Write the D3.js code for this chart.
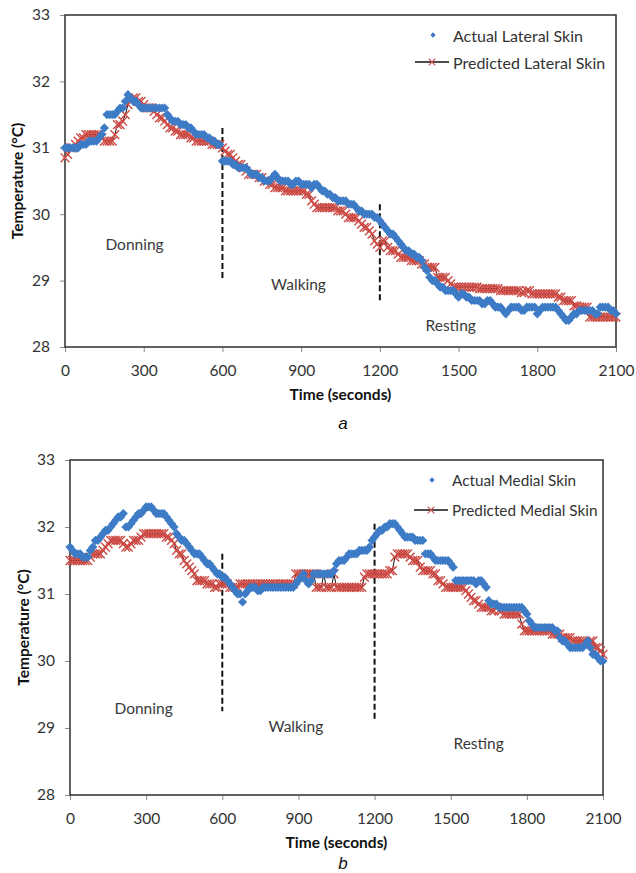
<!DOCTYPE html>
<html><head><meta charset="utf-8">
<script src="https://cdn.jsdelivr.net/npm/d3@7"></script>
<style>
body{margin:0;background:#fff}
svg{display:block}
text{font-family:Lato,"Open Sans","Liberation Sans",sans-serif}
</style>
</head><body>
<svg id="chart" width="636" height="873"></svg>
<script>
// ---------- DATA (sampled every 10 s) ----------
const timeSec = d3.range(0, 2101, 10);
const xTicks = [0, 300, 600, 900, 1200, 1500, 1800, 2100];
const yTicks = [28, 29, 30, 31, 32, 33];

const lateralActual = [
 31.0,31.0,31.0,31.0,31.0,31.0,31.05,31.05,31.05,31.1,
 31.1,31.1,31.1,31.15,31.2,31.3,31.5,31.5,31.5,31.5,
 31.55,31.6,31.6,31.7,31.8,31.75,31.7,31.7,31.65,31.6,
 31.6,31.6,31.6,31.6,31.6,31.6,31.6,31.6,31.6,31.5,
 31.45,31.4,31.4,31.4,31.35,31.35,31.35,31.3,31.3,31.25,
 31.2,31.2,31.2,31.2,31.15,31.15,31.1,31.1,31.05,31.05,
 30.8,30.8,30.8,30.8,30.75,30.75,30.7,30.7,30.7,30.7,
 30.65,30.6,30.6,30.6,30.55,30.55,30.5,30.5,30.5,30.55,
 30.6,30.55,30.5,30.5,30.5,30.5,30.45,30.45,30.5,30.5,
 30.45,30.45,30.45,30.45,30.4,30.45,30.45,30.4,30.35,30.35,
 30.3,30.3,30.25,30.25,30.2,30.2,30.2,30.2,30.15,30.15,
 30.15,30.1,30.05,30.05,30.0,30.0,30.0,30.0,29.95,29.95,
 29.9,29.85,29.8,29.75,29.7,29.7,29.65,29.6,29.55,29.5,
 29.45,29.45,29.4,29.4,29.35,29.35,29.3,29.2,29.15,29.05,
 29.0,29.0,28.95,28.9,28.9,28.85,28.85,28.85,28.85,28.8,
 28.75,28.8,28.8,28.75,28.75,28.7,28.7,28.7,28.7,28.65,
 28.65,28.7,28.7,28.65,28.6,28.6,28.6,28.55,28.5,28.55,
 28.6,28.6,28.6,28.6,28.55,28.55,28.6,28.6,28.6,28.6,
 28.5,28.55,28.6,28.6,28.6,28.6,28.6,28.6,28.55,28.5,
 28.45,28.4,28.4,28.45,28.5,28.5,28.55,28.55,28.55,28.55,
 28.55,28.55,28.5,28.5,28.6,28.6,28.6,28.6,28.55,28.55,
 28.5];
const lateralPredicted = [
 30.85,30.9,31.0,31.0,31.05,31.1,31.15,31.15,31.2,31.2,
 31.2,31.2,31.2,31.2,31.15,31.1,31.1,31.1,31.1,31.2,
 31.35,31.35,31.4,31.5,31.65,31.7,31.75,31.75,31.7,31.7,
 31.65,31.6,31.6,31.6,31.55,31.5,31.45,31.45,31.4,31.35,
 31.3,31.3,31.25,31.25,31.2,31.2,31.2,31.2,31.15,31.15,
 31.1,31.1,31.1,31.1,31.1,31.1,31.05,31.05,31.05,31.05,
 31.0,30.95,30.9,30.9,30.85,30.8,30.75,30.75,30.7,30.65,
 30.6,30.6,30.6,30.6,30.55,30.55,30.5,30.5,30.45,30.45,
 30.4,30.4,30.4,30.4,30.35,30.35,30.35,30.35,30.35,30.35,
 30.35,30.35,30.3,30.3,30.2,30.15,30.1,30.1,30.1,30.1,
 30.1,30.1,30.1,30.1,30.05,30.05,30.05,30.0,29.95,29.95,
 29.95,29.95,29.9,29.85,29.8,29.8,29.75,29.7,29.6,29.55,
 29.5,29.6,29.6,29.5,29.45,29.45,29.45,29.4,29.35,29.35,
 29.35,29.35,29.3,29.3,29.3,29.3,29.25,29.25,29.2,29.2,
 29.2,29.2,29.05,29.05,29.05,29.05,29.0,28.95,28.9,28.9,
 28.9,28.9,28.9,28.9,28.9,28.9,28.9,28.9,28.88,28.88,
 28.88,28.88,28.88,28.88,28.88,28.88,28.85,28.85,28.85,28.85,
 28.85,28.85,28.85,28.85,28.82,28.82,28.85,28.85,28.8,28.8,
 28.8,28.8,28.8,28.8,28.8,28.8,28.8,28.8,28.75,28.75,
 28.7,28.7,28.7,28.7,28.62,28.62,28.6,28.6,28.6,28.6,
 28.45,28.45,28.45,28.45,28.45,28.45,28.45,28.45,28.45,28.45,
 28.45];
const medialActual = [
 31.7,31.65,31.6,31.6,31.6,31.55,31.55,31.55,31.65,31.7,
 31.8,31.8,31.85,31.9,31.95,31.95,32.0,32.05,32.1,32.15,
 32.15,32.2,32.0,32.0,32.05,32.1,32.15,32.2,32.2,32.25,
 32.3,32.3,32.3,32.25,32.2,32.2,32.2,32.2,32.15,32.1,
 32.05,32.0,31.9,31.85,31.8,31.8,31.75,31.7,31.65,31.6,
 31.6,31.6,31.55,31.5,31.45,31.45,31.4,31.35,31.3,31.3,
 31.25,31.25,31.2,31.15,31.1,31.05,31.0,31.0,30.88,31.0,
 31.05,31.1,31.1,31.1,31.05,31.05,31.1,31.1,31.1,31.1,
 31.1,31.1,31.1,31.1,31.1,31.1,31.1,31.1,31.1,31.15,
 31.2,31.25,31.3,31.2,31.15,31.2,31.3,31.3,31.3,31.3,
 31.3,31.3,31.3,31.3,31.35,31.45,31.5,31.5,31.5,31.55,
 31.6,31.6,31.6,31.6,31.65,31.65,31.65,31.65,31.7,31.8,
 31.85,31.9,31.95,31.95,32.0,32.0,32.05,32.05,32.05,32.0,
 31.95,31.9,31.85,31.85,31.85,31.85,31.8,31.8,31.8,31.8,
 31.6,31.6,31.6,31.55,31.5,31.5,31.5,31.5,31.5,31.5,
 31.45,31.4,31.2,31.2,31.2,31.2,31.2,31.2,31.2,31.2,
 31.15,31.2,31.2,31.15,31.1,30.9,30.85,30.85,30.85,30.8,
 30.8,30.8,30.8,30.8,30.8,30.8,30.8,30.8,30.8,30.75,
 30.7,30.6,30.55,30.5,30.5,30.5,30.5,30.5,30.5,30.5,
 30.5,30.45,30.45,30.35,30.3,30.3,30.25,30.2,30.2,30.2,
 30.2,30.2,30.2,30.25,30.3,30.2,30.1,30.1,30.05,30.0,
 30.0];
const medialPredicted = [
 31.5,31.5,31.5,31.5,31.5,31.5,31.5,31.5,31.55,31.6,
 31.6,31.6,31.6,31.65,31.7,31.75,31.8,31.8,31.8,31.8,
 31.8,31.75,31.7,31.7,31.75,31.8,31.8,31.8,31.85,31.9,
 31.9,31.9,31.9,31.9,31.9,31.9,31.9,31.9,31.85,31.85,
 31.8,31.75,31.65,31.6,31.6,31.5,31.45,31.4,31.35,31.3,
 31.2,31.2,31.2,31.2,31.15,31.15,31.15,31.1,31.1,31.15,
 31.15,31.15,31.15,31.1,31.1,31.1,31.1,31.15,31.15,31.15,
 31.15,31.15,31.15,31.15,31.15,31.15,31.15,31.15,31.15,31.15,
 31.15,31.15,31.15,31.15,31.15,31.15,31.15,31.15,31.15,31.3,
 31.3,31.3,31.3,31.3,31.3,31.3,31.3,31.1,31.1,31.1,
 31.3,31.1,31.1,31.1,31.3,31.1,31.1,31.1,31.1,31.1,
 31.1,31.1,31.1,31.1,31.1,31.1,31.25,31.3,31.3,31.3,
 31.3,31.3,31.3,31.3,31.3,31.3,31.35,31.35,31.55,31.6,
 31.6,31.6,31.6,31.6,31.55,31.5,31.5,31.5,31.4,31.35,
 31.35,31.35,31.35,31.3,31.3,31.2,31.2,31.15,31.1,31.1,
 31.1,31.1,31.1,31.1,31.1,31.1,31.05,31.0,30.95,30.9,
 30.9,30.85,30.8,30.8,30.8,30.8,30.75,30.75,30.8,30.75,
 30.75,30.7,30.7,30.7,30.7,30.7,30.7,30.7,30.55,30.45,
 30.45,30.45,30.45,30.45,30.45,30.45,30.45,30.45,30.45,30.45,
 30.4,30.4,30.4,30.4,30.35,30.35,30.35,30.35,30.3,30.3,
 30.3,30.3,30.3,30.25,30.25,30.3,30.3,30.2,30.2,30.15,
 30.1];

const lateralPhaseLines = [{t:600, from:31.3, to:29.0}, {t:1200, from:30.15, to:28.68}];
const medialPhaseLines  = [{t:600, from:31.6, to:29.25}, {t:1200, from:32.05, to:29.1}];
const phaseNames = ["Donning", "Walking", "Resting"];
const lateralPhaseAt = [{t:265, v:29.55}, {t:890, v:28.95}, {t:1470, v:28.33}];
const medialPhaseAt  = [{t:290, v:29.3}, {t:890, v:29.03}, {t:1610, v:28.77}];
const lateralLegend = ["Actual Lateral Skin", "Predicted Lateral Skin"];
const medialLegend  = ["Actual Medial Skin", "Predicted Medial Skin"];

// ---------- DRAW ----------
const svg = d3.select("#chart");
const BLUE = "#3d7bc6", RED = "#cc4a44", AX = "#3a3a3a", TXT = "#333";

function panel(cfg) {
  const g = svg.append("g");
  const x = d3.scaleLinear().domain([0, 2100]).range([cfg.left, cfg.right]);
  const y = d3.scaleLinear().domain([28, 33]).range([cfg.bottom, cfg.top]);

  const xa = g.append("g").attr("transform", `translate(0,${cfg.bottom})`)
    .call(d3.axisBottom(x).tickValues(xTicks).tickFormat(d3.format("d"))
      .tickSize(5).tickPadding(13).tickSizeOuter(0));
  const ya = g.append("g").attr("transform", `translate(${cfg.left},0)`)
    .call(d3.axisLeft(y).tickValues(yTicks).tickFormat(d3.format("d"))
      .tickSize(5).tickPadding(10).tickSizeOuter(0));
  [xa, ya].forEach(a => {
    a.select(".domain").remove();
    a.selectAll(".tick line").attr("stroke", "#888").attr("stroke-width", 1);
    a.selectAll(".tick text").attr("fill", TXT).style("font-size", "15.5px");
  });

  g.append("rect").attr("x", cfg.left).attr("y", cfg.top)
    .attr("width", cfg.right - cfg.left).attr("height", cfg.bottom - cfg.top)
    .attr("fill", "none").attr("stroke", AX).attr("stroke-width", 1.6);

  g.selectAll(".phase").data(cfg.phaseLines).join("line")
    .attr("x1", d => x(d.t)).attr("x2", d => x(d.t))
    .attr("y1", d => y(d.from)).attr("y2", d => y(d.to))
    .attr("stroke", "#111").attr("stroke-width", 2).attr("stroke-dasharray", "6,3");

  g.selectAll(".plab").data(cfg.phaseAt).join("text")
    .attr("x", d => x(d.t)).attr("y", d => y(d.v))
    .attr("text-anchor", "middle").attr("dominant-baseline", "central")
    .attr("fill", "#3a3a3a").style("font-size", "15.5px")
    .text((d, i) => phaseNames[i]);

  const pts = (vals) => timeSec.map((t, i) => ({t, v: vals[i]}));

  g.append("path").datum(pts(cfg.pred))
    .attr("d", d3.line().x(d => x(d.t)).y(d => y(d.v)))
    .attr("fill", "none").attr("stroke", "#111").attr("stroke-width", 1);
  const xSym = d3.symbol().type(d3.symbolX).size(52);
  g.selectAll(".px").data(pts(cfg.pred)).join("path")
    .attr("transform", d => `translate(${x(d.t)},${y(d.v)})`)
    .attr("d", xSym).attr("fill", "none").attr("stroke", RED).attr("stroke-width", 1.4);

  const dSym = d3.symbol().type(d3.symbolSquare).size(42);
  g.selectAll(".ad").data(pts(cfg.act)).join("path")
    .attr("transform", d => `translate(${x(d.t)},${y(d.v)}) rotate(45)`)
    .attr("d", dSym).attr("fill", BLUE);

  const L = cfg.legend;
  g.append("path").attr("transform", `translate(${L.x + 18},${L.y}) rotate(45)`)
    .attr("d", d3.symbol().type(d3.symbolSquare).size(14)).attr("fill", BLUE);
  g.append("line").attr("x1", L.x).attr("x2", L.x + 34).attr("y1", L.y + L.gap).attr("y2", L.y + L.gap)
    .attr("stroke", "#111").attr("stroke-width", 1.5);
  g.append("path").attr("transform", `translate(${L.x + 17},${L.y + L.gap})`)
    .attr("d", d3.symbol().type(d3.symbolX).size(30)).attr("fill", "none").attr("stroke", RED).attr("stroke-width", 1.1);
  g.selectAll(".lt").data(cfg.legendText).join("text")
    .attr("x", L.x + 38).attr("y", (d, i) => L.y + i * L.gap)
    .attr("dominant-baseline", "central").attr("fill", TXT).style("font-size", cfg.legendFont)
    .text(d => d);

  g.append("text").attr("x", (cfg.left + cfg.right) / 2).attr("y", cfg.bottom + 53)
    .attr("text-anchor", "middle").attr("fill", "#111").style("font-size", "15.5px").style("font-weight", "bold")
    .text("Time (seconds)");
  g.append("text").attr("transform", `translate(${cfg.ytx},${(cfg.top + cfg.bottom) / 2}) rotate(-90)`)
    .attr("text-anchor", "middle").attr("dominant-baseline", "central")
    .attr("fill", "#111").style("font-size", "15.5px").style("font-weight", "bold")
    .text("Temperature (°C)");
  g.append("text").attr("x", 343).attr("y", cfg.captionY).attr("text-anchor", "middle")
    .attr("fill", "#111").style("font-size", "17px").style("font-style", "italic")
    .style("font-family", "'Liberation Sans',Arial,sans-serif")
    .text(cfg.caption);
}

panel({left: 65, right: 616, top: 15, bottom: 347, ytx: 17,
  act: lateralActual, pred: lateralPredicted,
  phaseLines: lateralPhaseLines, phaseAt: lateralPhaseAt,
  legend: {x: 415, y: 35, gap: 27}, legendText: lateralLegend, legendFont: "16px",
  caption: "a", captionY: 429});
panel({left: 70, right: 603, top: 460, bottom: 795, ytx: 23,
  act: medialActual, pred: medialPredicted,
  phaseLines: medialPhaseLines, phaseAt: medialPhaseAt,
  legend: {x: 414, y: 480, gap: 30}, legendText: medialLegend, legendFont: "15.3px",
  caption: "b", captionY: 869});
</script>
</body></html>
